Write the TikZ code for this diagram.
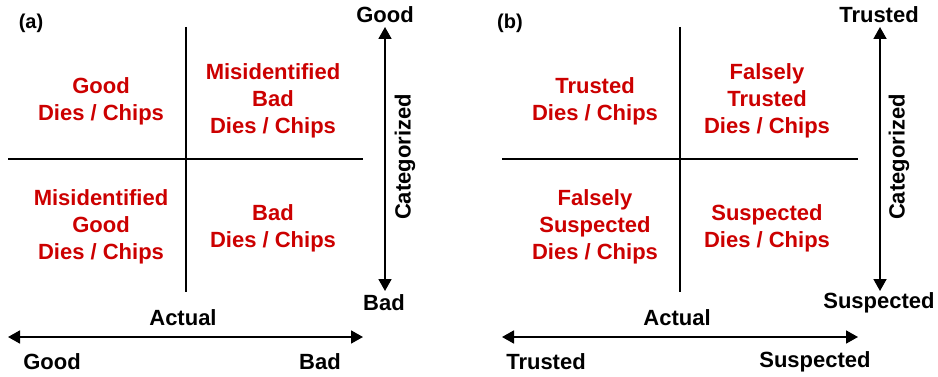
\documentclass[tikz,border=0pt]{standalone}
\usepackage{fontspec}
\setmainfont{Liberation Sans}
\usetikzlibrary{arrows.meta}
\definecolor{qred}{RGB}{204,0,0}
\begin{document}
\begin{tikzpicture}[x=1pt,y=-1pt,
  quad/.style={text=qred,font=\bfseries\fontsize{22}{27}\selectfont,align=center,inner sep=0pt},
  lbl/.style={font=\bfseries\fontsize{22}{27}\selectfont,inner sep=0pt},
  tag/.style={font=\bfseries\fontsize{20}{24}\selectfont,inner sep=0pt},
  divider/.style={line width=1.8pt},
  axis/.style={line width=1.8pt,{Triangle[length=12pt,width=13pt]}-{Triangle[length=12pt,width=13pt]}}]
\useasboundingbox (0,0) rectangle (938,377);
% ---------- panel (a)
\node[tag] (ta) at (31,23) {(a)};
\coordinate (av1) at (186,27); \coordinate (av2) at (186,292);
\coordinate (ah1) at (8,159);  \coordinate (ah2) at (363,159);
\draw[divider] (av1) -- (av2);
\draw[divider] (ah1) -- (ah2);
\node[quad] (a11) at (101,101) {Good\\Dies / Chips};
\node[quad] (a12) at (273,101) {Misidentified\\Bad\\Dies / Chips};
\node[quad] (a21) at (101,227) {Misidentified\\Good\\Dies / Chips};
\node[quad] (a22) at (273,228) {Bad\\Dies / Chips};
\node[lbl] (agood) at (385,15) {Good};
\node[lbl] (abad) at (384,303) {Bad};
\coordinate (aat) at (385,27); \coordinate (aab) at (385,291);
\draw[axis] (aat) -- (aab);
\node[lbl,rotate=90] (acat) at (405,157) {Categorized};
\node[lbl] (aact) at (183,318) {Actual};
\coordinate (aal) at (8,337); \coordinate (aar) at (363,337);
\draw[axis] (aal) -- (aar);
\node[lbl] (agl) at (52,362) {Good};
\node[lbl] (abr) at (320,362) {Bad};
% ---------- panel (b)
\node[tag] (tb) at (510,23) {(b)};
\coordinate (bv1) at (680,27); \coordinate (bv2) at (680,292);
\coordinate (bh1) at (502,159); \coordinate (bh2) at (858,159);
\draw[divider] (bv1) -- (bv2);
\draw[divider] (bh1) -- (bh2);
\node[quad] (b11) at (595,101) {Trusted\\Dies / Chips};
\node[quad] (b12) at (767,101) {Falsely\\Trusted\\Dies / Chips};
\node[quad] (b21) at (595,227) {Falsely\\Suspected\\Dies / Chips};
\node[quad] (b22) at (767,228) {Suspected\\Dies / Chips};
\node[lbl] (btr) at (879,15) {Trusted};
\node[lbl] (bsu) at (879,303) {Suspected};
\coordinate (bat) at (880,27); \coordinate (bab) at (880,291);
\draw[axis] (bat) -- (bab);
\node[lbl,rotate=90] (bcat) at (899,157) {Categorized};
\node[lbl] (bact) at (677,318) {Actual};
\coordinate (bal) at (502,337); \coordinate (bar) at (858,337);
\draw[axis] (bal) -- (bar);
\node[lbl] (btl) at (546,362) {Trusted};
\node[lbl] (bsr) at (815,362) {Suspected};
\end{tikzpicture}
\end{document}
